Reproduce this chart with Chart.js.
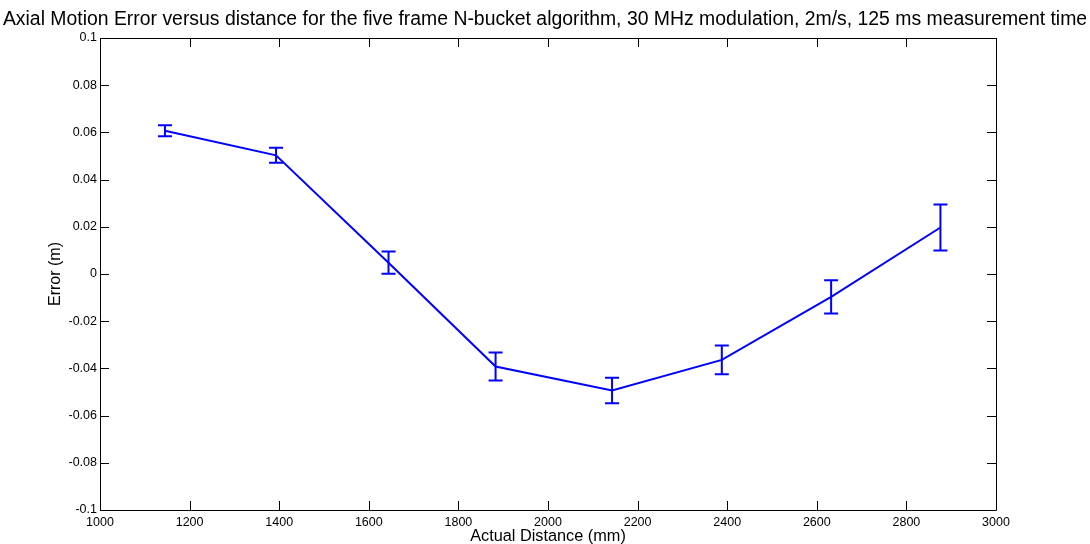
<!DOCTYPE html>
<html>
<head>
<meta charset="utf-8">
<script src="https://cdn.jsdelivr.net/npm/chart.js@4/dist/chart.umd.min.js"></script>
<style>
  html, body { margin: 0; padding: 0; background: #fff; }
  #wrap { width: 1090px; height: 544px; }
</style>
</head>
<body>
<div id="wrap"><canvas id="chart" width="1090" height="544"></canvas></div>
<script>
// values
var distances = [1145, 1393, 1644, 1883, 2143, 2388, 2632, 2876];
var errors = [0.0607, 0.0503, 0.0048, -0.0392, -0.0494, -0.0364, -0.0097, 0.0197];
var errorBars = [0.0023, 0.0032, 0.0047, 0.0059, 0.0054, 0.0061, 0.0070, 0.0097];

var xTicks = [1000, 1200, 1400, 1600, 1800, 2000, 2200, 2400, 2600, 2800, 3000];
var yTicks = [-0.1, -0.08, -0.06, -0.04, -0.02, 0, 0.02, 0.04, 0.06, 0.08, 0.1];

var titleText = 'Axial Motion Error versus distance for the five frame N-bucket algorithm, 30 MHz modulation, 2m/s, 125 ms measurement time';
var fontFamily = '"Liberation Sans", Arial, Helvetica, sans-serif';
var blue = '#0000ff';

// error bars with caps, positioned through the chart scales
var errorBarPlugin = {
    id: 'errorBars',
    afterDatasetsDraw: function (chart) {
        var ctx = chart.ctx;
        var xs = chart.scales.x, ys = chart.scales.y;
        ctx.save();
        ctx.strokeStyle = blue;
        ctx.lineWidth = 2;
        for (var i = 0; i < distances.length; i++) {
            var px = xs.getPixelForValue(distances[i]);
            var top = ys.getPixelForValue(errors[i] + errorBars[i]);
            var bot = ys.getPixelForValue(errors[i] - errorBars[i]);
            ctx.beginPath();
            ctx.moveTo(px, top); ctx.lineTo(px, bot);
            ctx.moveTo(px - 7, top); ctx.lineTo(px + 7, top);
            ctx.moveTo(px - 7, bot); ctx.lineTo(px + 7, bot);
            ctx.stroke();
        }
        ctx.restore();
    }
};

// matlab style box with inward ticks on every side
var boxPlugin = {
    id: 'box',
    afterDraw: function (chart) {
        var ctx = chart.ctx;
        var a = chart.chartArea;
        var xs = chart.scales.x, ys = chart.scales.y;
        var len = 9;
        ctx.save();
        ctx.strokeStyle = '#000';
        ctx.lineWidth = 1;
        ctx.beginPath();
        ctx.rect(a.left + 0.5, a.top + 0.5, a.right - a.left, a.bottom - a.top);
        xTicks.forEach(function (v) {
            var px = Math.round(xs.getPixelForValue(v)) + 0.5;
            ctx.moveTo(px, a.bottom); ctx.lineTo(px, a.bottom - len);
            ctx.moveTo(px, a.top); ctx.lineTo(px, a.top + len);
        });
        yTicks.forEach(function (v) {
            var py = Math.round(ys.getPixelForValue(v)) + 0.5;
            ctx.moveTo(a.left, py); ctx.lineTo(a.left + len, py);
            ctx.moveTo(a.right, py); ctx.lineTo(a.right - len, py);
        });
        ctx.stroke();
        ctx.restore();
    }
};

var points = distances.map(function (d, i) { return { x: d, y: errors[i] }; });

new Chart(document.getElementById('chart').getContext('2d'), {
    type: 'scatter',
    data: {
        datasets: [{
            data: points,
            showLine: true,
            borderColor: blue,
            backgroundColor: blue,
            borderWidth: 2,
            pointRadius: 0,
            tension: 0
        }]
    },
    options: {
        responsive: false,
        animation: false,
        layout: { padding: 0 },
        plugins: {
            legend: { display: false },
            tooltip: { enabled: false },
            title: {
                display: true,
                text: titleText,
                color: '#000',
                font: { family: fontFamily, size: 19.4, weight: 'normal' },
                padding: { top: 8.5, bottom: 6.22 }
            }
        },
        scales: {
            x: {
                type: 'linear',
                min: 1000,
                max: 3000,
                afterFit: function (s) { s.height = 34; },
                afterBuildTicks: function (s) { s.ticks = xTicks.map(function (v) { return { value: v }; }); },
                grid: { display: false, drawTicks: false },
                border: { display: false },
                ticks: {
                    color: '#000',
                    padding: 5,
                    maxRotation: 0,
                    font: { family: fontFamily, size: 12.5 },
                    callback: function (v) { return String(v); }
                },
                title: {
                    display: true,
                    text: 'Actual Distance (mm)',
                    color: '#000',
                    font: { family: fontFamily, size: 16.3 },
                    padding: { top: 0, bottom: -2 }
                }
            },
            y: {
                type: 'linear',
                min: -0.1,
                max: 0.1,
                afterFit: function (s) { s.width = 100; },
                afterBuildTicks: function (s) { s.ticks = yTicks.map(function (v) { return { value: v }; }); },
                grid: { display: false, drawTicks: false },
                border: { display: false },
                ticks: {
                    color: '#000',
                    padding: 3,
                    font: { family: fontFamily, size: 12.5 },
                    callback: function (v) { return String(Math.round(v * 100) / 100); }
                },
                title: {
                    display: true,
                    text: 'Error (m)',
                    color: '#000',
                    font: { family: fontFamily, size: 16 },
                    padding: { top: 46, bottom: 0 }
                }
            },
            // empty right margin so the title centres on the whole figure
            yRight: {
                type: 'linear',
                position: 'right',
                min: -0.1,
                max: 0.1,
                afterFit: function (s) { s.width = 94; },
                grid: { display: false, drawTicks: false },
                border: { display: false },
                ticks: { display: false }
            }
        }
    },
    plugins: [errorBarPlugin, boxPlugin]
});
</script>
</body>
</html>
